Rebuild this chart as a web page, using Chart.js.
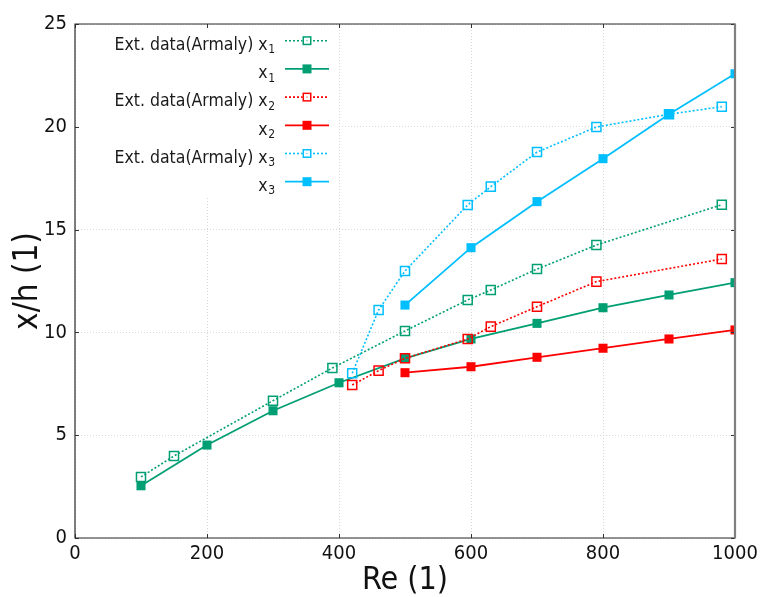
<!DOCTYPE html>
<html>
<head>
<meta charset="utf-8">
<script src="https://cdn.jsdelivr.net/npm/chart.js@4/dist/chart.umd.min.js"></script>
<style>
  html, body { margin: 0; padding: 0; background: #fff; }
  #wrap { width: 765px; height: 597px; }
</style>
</head>
<body>
<div id="wrap"><canvas id="c" width="765" height="597"></canvas></div>
<script>
// Reattachment length x/h versus Reynolds number
const reArmaly1 = [100, 150, 300, 390, 500, 595, 630, 700, 790, 980];
const armalyX1  = [2.97, 3.99, 6.68, 8.27, 10.07, 11.58, 12.06, 13.08, 14.25, 16.21];
const reArmaly2 = [420, 460, 500, 595, 630, 700, 790, 980];
const armalyX2  = [7.44, 8.14, 8.74, 9.68, 10.28, 11.25, 12.47, 13.57];
const reArmaly3 = [420, 460, 500, 595, 630, 700, 790, 900, 980];
const armalyX3  = [8.01, 11.09, 12.99, 16.20, 17.09, 18.77, 19.99, 20.61, 20.98];

const reSim1 = [100, 200, 300, 400, 500, 600, 700, 800, 900, 1000];
const simX1  = [2.54, 4.52, 6.19, 7.55, 8.74, 9.68, 10.44, 11.20, 11.82, 12.42];
const reSim2 = [500, 600, 700, 800, 900, 1000];
const simX2  = [8.04, 8.33, 8.79, 9.23, 9.68, 10.12];
const reSim3 = [500, 600, 700, 800, 900, 1000];
const simX3  = [11.33, 14.12, 16.36, 18.45, 20.61, 22.58];

const legendNames = ['Ext. data(Armaly) x', 'x', 'Ext. data(Armaly) x', 'x', 'Ext. data(Armaly) x', 'x'];
const legendSubs  = ['1', '1', '2', '2', '3', '3'];

const xTickValues = [0, 200, 400, 600, 800, 1000];
const yTickValues = [0, 5, 10, 15, 20, 25];

const GREEN = '#009e73', RED = '#ff0000', BLUE = '#00bfff';
const FONT = '"DejaVu Sans Condensed", "DejaVu Sans", sans-serif';

const pts = (xs, ys) => xs.map((x, i) => ({ x: x, y: ys[i] }));

function measured(color, xs, ys, i) {
  return {
    label: legendNames[i] + legendSubs[i],
    data: pts(xs, ys),
    borderColor: color,
    borderWidth: 1.6,
    borderDash: [2, 2],
    pointStyle: 'rect',
    pointRadius: 6.4,
    pointBorderWidth: 1.5,
    pointBorderColor: color,
    pointBackgroundColor: 'rgba(0,0,0,0)',
    fill: false,
    tension: 0,
    order: 6 - i,
    dashed: true
  };
}
function simulated(color, xs, ys, i) {
  return {
    label: legendNames[i] + legendSubs[i],
    data: pts(xs, ys),
    borderColor: color,
    borderWidth: 1.8,
    pointStyle: 'rect',
    pointRadius: 6.4,
    pointBorderWidth: 0,
    pointBackgroundColor: color,
    fill: false,
    tension: 0,
    order: 6 - i,
    dashed: false
  };
}

const datasets = [
  measured(GREEN, reArmaly1, armalyX1, 0),
  simulated(GREEN, reSim1, simX1, 1),
  measured(RED, reArmaly2, armalyX2, 2),
  simulated(RED, reSim2, simX2, 3),
  measured(BLUE, reArmaly3, armalyX3, 4),
  simulated(BLUE, reSim3, simX3, 5)
];

// Frame, inward tick marks and the key box
const framePlugin = {
  id: 'frame',
  afterDraw(chart) {
    const ctx = chart.ctx;
    const a = chart.chartArea;
    const xs = chart.scales.x, ys = chart.scales.y;

    // key
    ctx.save();
    ctx.fillStyle = '#ffffff';
    ctx.fillRect(a.left + 1, a.top + 1, 337 - a.left, 196 - a.top);
    const rowY0 = 40.7, rowStep = 28.2;
    const textRight = 275, lx1 = 285, lx2 = 329, mx = 307;
    chart.data.datasets.forEach((ds, i) => {
      const y = rowY0 + i * rowStep;
      ctx.font = '12px ' + FONT;
      const subW = ctx.measureText(legendSubs[i]).width;
      ctx.fillStyle = '#1a1a1a';
      ctx.textAlign = 'left';
      ctx.textBaseline = 'alphabetic';
      ctx.fillText(legendSubs[i], textRight - subW, y + 12.6);
      ctx.font = '17.5px ' + FONT;
      ctx.textAlign = 'right';
      ctx.fillText(legendNames[i], textRight - subW - 0.5, y + 9.3);

      ctx.strokeStyle = ds.borderColor;
      ctx.lineWidth = ds.borderWidth;
      ctx.setLineDash(ds.dashed ? [2, 2] : []);
      ctx.beginPath();
      ctx.moveTo(lx1, y);
      ctx.lineTo(lx2, y);
      ctx.stroke();
      ctx.setLineDash([]);
      const s = 9;
      if (ds.dashed) {
        ctx.fillStyle = '#ffffff';
        ctx.fillRect(mx - s / 2, y - s / 2, s, s);
        ctx.lineWidth = 1.5;
        ctx.strokeRect(mx - s / 2 + 0.75, y - s / 2 + 0.75, s - 1.5, s - 1.5);
        ctx.fillStyle = ds.borderColor;
        ctx.fillRect(mx - 0.5, y - 0.5, 1, 1);
      } else {
        ctx.fillStyle = ds.borderColor;
        ctx.fillRect(mx - s / 2, y - s / 2, s, s);
      }
    });
    ctx.restore();

    // inward ticks on all four sides
    ctx.save();
    ctx.strokeStyle = '#333333';
    ctx.lineWidth = 1;
    const tl = 4;
    xTickValues.forEach(v => {
      const px = Math.round(xs.getPixelForValue(v)) + 0.5;
      ctx.beginPath();
      ctx.moveTo(px, a.bottom); ctx.lineTo(px, a.bottom - tl);
      ctx.moveTo(px, a.top); ctx.lineTo(px, a.top + tl);
      ctx.stroke();
    });
    yTickValues.forEach(v => {
      const py = Math.round(ys.getPixelForValue(v)) + 0.5;
      ctx.beginPath();
      ctx.moveTo(a.left, py); ctx.lineTo(a.left + tl, py);
      ctx.moveTo(a.right, py); ctx.lineTo(a.right - tl, py);
      ctx.stroke();
    });

    // frame: dark left, bottom and top; grey heavier right edge
    ctx.strokeStyle = '#2b2b2b';
    ctx.lineWidth = 1.2;
    ctx.beginPath();
    ctx.moveTo(a.right, a.top); ctx.lineTo(a.left, a.top);
    ctx.lineTo(a.left, a.bottom); ctx.lineTo(a.right, a.bottom);
    ctx.stroke();
    ctx.strokeStyle = '#7f7f7f';
    ctx.lineWidth = 2.2;
    ctx.beginPath();
    ctx.moveTo(a.right, a.top - 0.6); ctx.lineTo(a.right, a.bottom + 0.6);
    ctx.stroke();
    ctx.restore();
  }
};

new Chart(document.getElementById('c'), {
  type: 'line',
  data: { datasets: datasets },
  plugins: [framePlugin],
  options: {
    responsive: false,
    animation: false,
    devicePixelRatio: 1,
    layout: { padding: { left: 0, right: 30, top: 24, bottom: 0 } },
    plugins: { legend: { display: false }, tooltip: { enabled: false } },
    scales: {
      x: {
        type: 'linear',
        min: 0, max: 1000,
        afterBuildTicks: s => { s.ticks = xTickValues.map(v => ({ value: v })); },
        afterFit: s => { s.height = 59; },
        grid: { color: '#d8d8d8', lineWidth: 1, drawTicks: false },
        border: { display: false, dash: [1, 2] },
        ticks: { color: '#111', font: { family: FONT, size: 20 }, padding: 4, maxRotation: 0, callback: v => String(v) },
        title: { display: true, text: 'Re (1)', color: '#111', font: { family: FONT, size: 32, lineHeight: 1 }, padding: { top: 0, bottom: 0 } }
      },
      y: {
        type: 'linear',
        min: 0, max: 25,
        afterBuildTicks: s => { s.ticks = yTickValues.map(v => ({ value: v })); },
        afterFit: s => { s.width = 75; },
        grid: { color: '#d8d8d8', lineWidth: 1, drawTicks: false },
        border: { display: false, dash: [1, 2] },
        ticks: { color: '#111', font: { family: FONT, size: 20 }, padding: 8, callback: v => String(v) },
        title: { display: true, text: 'x/h (1)', color: '#111', font: { family: FONT, size: 33, lineHeight: 1 }, padding: { top: 12, bottom: 0 } }
      }
    }
  }
});
</script>
</body>
</html>
